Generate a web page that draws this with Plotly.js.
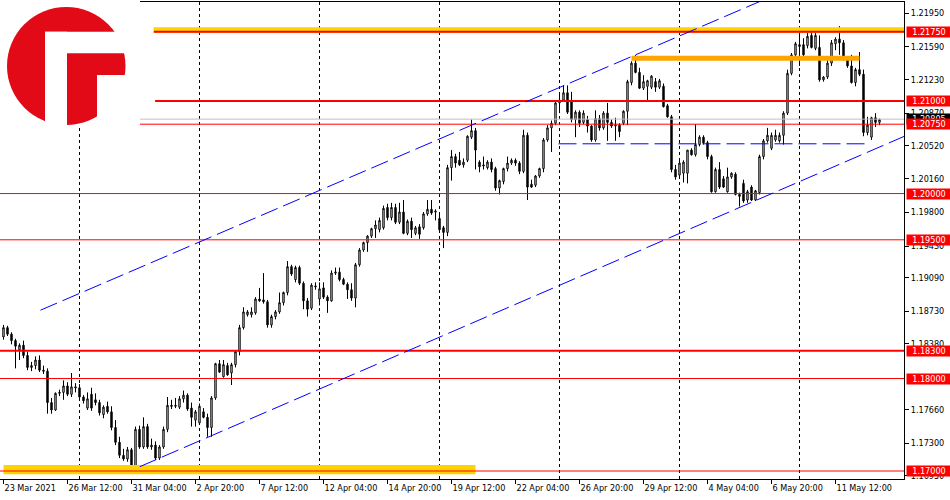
<!DOCTYPE html>
<html>
<head>
<meta charset="utf-8">
<script src="https://cdn.plot.ly/plotly-3.0.1.min.js"></script>
<style>
html,body{margin:0;padding:0;background:#ffffff;}
#chart{width:950px;height:500px;}
</style>
</head>
<body>
<div id="chart"></div>
<script>
// EURUSD H4 candles
const opens = [
1.1845,1.1855,1.1848,1.1841,1.1831,1.1836,1.1825,1.1812,1.1814,1.1820,
1.1809,1.1808,1.1774,1.1766,1.1784,1.1785,1.1792,1.1783,1.1791,1.1790,
1.1780,1.1768,1.1783,1.1777,1.1774,1.1761,1.1770,1.1764,1.1747,1.1731,
1.1717,1.1713,1.1723,1.1705,1.1745,1.1726,1.1748,1.1726,1.1728,1.1714,
1.1726,1.1745,1.1771,1.1770,1.1769,1.1778,1.1782,1.1768,1.1755,1.1752,
1.1764,1.1758,1.1747,1.1779,1.1816,1.1802,1.1814,1.1806,1.1815,1.1829,
1.1855,1.1869,1.1869,1.1871,1.1886,1.1885,1.1883,1.1858,1.1867,1.1872,
1.1882,1.1893,1.1921,1.1907,1.1920,1.1903,1.1884,1.1876,1.1899,1.1886,
1.1898,1.1888,1.1884,1.1914,1.1915,1.1907,1.1902,1.1896,1.1887,1.1923,
1.1939,1.1947,1.1954,1.1962,1.1961,1.1963,1.1985,1.1974,1.1985,1.1969,
1.1980,1.1957,1.1970,1.1957,1.1964,1.1963,1.1978,1.1983,1.1980,1.1973,
1.1963,1.1958,1.2028,1.2040,1.2036,1.2031,1.2036,1.2061,1.2068,1.2034,
1.2031,1.2028,1.2034,1.2027,1.2006,1.2013,1.2027,1.2033,1.2036,1.2033,
1.2024,1.2063,1.2010,1.2009,1.2019,1.2027,1.2058,1.2071,1.2076,1.2098,
1.2101,1.2109,1.2099,1.2080,1.2088,1.2077,1.2080,1.2073,1.2058,1.2081,
1.2071,1.2087,1.2077,1.2073,1.2074,1.2076,1.2089,1.2120,1.2141,1.2131,
1.2114,1.2116,1.2115,1.2121,1.2115,1.2116,1.2095,1.2083,1.2026,1.2020,
1.2022,1.2022,1.2047,1.2042,1.2053,1.2061,1.2055,1.2040,1.2002,1.2026,
1.2016,1.2002,1.2018,1.2021,1.1999,1.2011,1.1993,1.2007,1.1993,1.2001,
1.2040,1.2057,1.2049,1.2058,1.2057,1.2063,1.2087,1.2130,1.2150,1.2159,
1.2161,1.2160,1.2171,1.2157,1.2158,1.2123,1.2126,1.2141,1.2162,1.2167,
1.2163,1.2146,1.2138,1.2120,1.2134,1.2129,1.2066,1.2061,1.2082,1.2077
];
const highs = [
1.1858,1.1857,1.1850,1.1843,1.1838,1.1841,1.1829,1.1818,1.1824,1.1825,
1.1814,1.1811,1.1779,1.1785,1.1788,1.1798,1.1796,1.1806,1.1795,1.1794,
1.1782,1.1785,1.1790,1.1784,1.1777,1.1771,1.1775,1.1770,1.1755,1.1737,
1.1724,1.1726,1.1725,1.1748,1.1749,1.1758,1.1751,1.1735,1.1732,1.1728,
1.1748,1.1780,1.1777,1.1779,1.1781,1.1787,1.1784,1.1774,1.1766,1.1773,
1.1768,1.1762,1.1781,1.1817,1.1820,1.1820,1.1817,1.1817,1.1830,1.1858,
1.1877,1.1874,1.1877,1.1888,1.1898,1.1914,1.1885,1.1869,1.1874,1.1893,
1.1894,1.1927,1.1923,1.1922,1.1922,1.1905,1.1887,1.1903,1.1904,1.1904,
1.1904,1.1890,1.1917,1.1920,1.1920,1.1909,1.1904,1.1903,1.1925,1.1941,
1.1948,1.1955,1.1963,1.1971,1.1974,1.1987,1.1989,1.1990,1.1989,1.1990,
1.1993,1.1972,1.1974,1.1965,1.1967,1.1980,1.1993,1.1993,1.1983,1.1977,
1.1965,1.2031,1.2047,1.2043,1.2045,1.2038,1.2063,1.2080,1.2071,1.2036,
1.2040,1.2036,1.2038,1.2029,1.2015,1.2028,1.2040,1.2038,1.2038,1.2035,
1.2069,1.2066,1.2015,1.2020,1.2028,1.2060,1.2074,1.2079,1.2100,1.2107,
1.2117,1.2117,1.2110,1.2090,1.2090,1.2090,1.2084,1.2074,1.2090,1.2085,
1.2089,1.2098,1.2080,1.2082,1.2076,1.2090,1.2123,1.2143,1.2150,1.2136,
1.2128,1.2123,1.2128,1.2125,1.2124,1.2119,1.2097,1.2085,1.2031,1.2036,
1.2036,1.2047,1.2049,1.2075,1.2063,1.2063,1.2057,1.2042,1.2028,1.2034,
1.2019,1.2028,1.2023,1.2023,1.2001,1.2015,1.2004,1.2009,1.2004,1.2042,
1.2059,1.2071,1.2066,1.2069,1.2066,1.2089,1.2134,1.2152,1.2164,1.2174,
1.2168,1.2174,1.2174,1.2174,1.2171,1.2127,1.2144,1.2166,1.2169,1.2181,
1.2166,1.2148,1.2150,1.2136,1.2153,1.2134,1.2083,1.2083,1.2087,1.2081
];
const lows = [
1.1842,1.1846,1.1837,1.1811,1.1820,1.1822,1.1809,1.1808,1.1810,1.1807,
1.1805,1.1762,1.1762,1.1765,1.1781,1.1777,1.1781,1.1780,1.1785,1.1777,
1.1773,1.1766,1.1765,1.1771,1.1760,1.1757,1.1762,1.1744,1.1728,1.1714,
1.1711,1.1710,1.1701,1.1702,1.1724,1.1724,1.1724,1.1723,1.1712,1.1712,
1.1724,1.1742,1.1767,1.1768,1.1767,1.1774,1.1765,1.1748,1.1748,1.1750,
1.1757,1.1737,1.1737,1.1777,1.1806,1.1801,1.1803,1.1793,1.1812,1.1825,
1.1853,1.1867,1.1866,1.1869,1.1883,1.1881,1.1855,1.1855,1.1864,1.1870,
1.1879,1.1890,1.1911,1.1904,1.1901,1.1875,1.1867,1.1874,1.1896,1.1879,
1.1886,1.1871,1.1883,1.1912,1.1905,1.1901,1.1886,1.1884,1.1877,1.1921,
1.1937,1.1937,1.1952,1.1952,1.1958,1.1961,1.1971,1.1971,1.1967,1.1967,
1.1956,1.1955,1.1952,1.1955,1.1951,1.1961,1.1976,1.1977,1.1971,1.1960,
1.1941,1.1954,1.2014,1.2028,1.2030,1.2028,1.2034,1.2059,1.2026,1.2023,
1.2026,1.2026,1.2023,1.2003,1.1999,1.2010,1.2024,1.2031,1.2030,1.2021,
1.2022,1.1993,1.2006,1.2007,1.2017,1.2023,1.2056,1.2045,1.2074,1.2087,
1.2099,1.2086,1.2077,1.2061,1.2072,1.2075,1.2066,1.2056,1.2056,1.2068,
1.2069,1.2057,1.2071,1.2057,1.2061,1.2074,1.2074,1.2117,1.2130,1.2113,
1.2112,1.2101,1.2113,1.2110,1.2113,1.2093,1.2082,1.2023,1.2015,1.2018,
1.2012,1.2011,1.2041,1.2040,1.2051,1.2053,1.2037,1.2001,1.2001,1.2005,
1.2006,1.2001,1.2016,1.1998,1.1986,1.1990,1.1990,1.1992,1.1992,1.1999,
1.2037,1.2055,1.2047,1.2056,1.2055,1.2053,1.2085,1.2128,1.2148,1.2138,
1.2148,1.2157,1.2157,1.2155,1.2121,1.2121,1.2124,1.2138,1.2155,1.2150,
1.2144,1.2136,1.2119,1.2116,1.2127,1.2062,1.2063,1.2058,1.2072,1.2074
];
const closes = [
1.1855,1.1848,1.1841,1.1835,1.1836,1.1825,1.1812,1.1814,1.1820,1.1809,
1.1808,1.1774,1.1766,1.1784,1.1785,1.1792,1.1783,1.1791,1.1790,1.1780,
1.1776,1.1778,1.1768,1.1774,1.1763,1.1769,1.1764,1.1747,1.1731,1.1717,
1.1713,1.1723,1.1705,1.1745,1.1726,1.1748,1.1726,1.1728,1.1714,1.1726,
1.1745,1.1771,1.1770,1.1771,1.1778,1.1782,1.1767,1.1758,1.1764,1.1770,
1.1758,1.1747,1.1779,1.1816,1.1807,1.1815,1.1804,1.1815,1.1829,1.1855,
1.1872,1.1872,1.1872,1.1886,1.1884,1.1883,1.1858,1.1867,1.1872,1.1882,
1.1893,1.1921,1.1913,1.1920,1.1903,1.1884,1.1875,1.1901,1.1900,1.1897,
1.1888,1.1884,1.1914,1.1915,1.1907,1.1902,1.1896,1.1887,1.1923,1.1939,
1.1947,1.1954,1.1962,1.1966,1.1971,1.1984,1.1974,1.1985,1.1969,1.1980,
1.1957,1.1970,1.1961,1.1963,1.1956,1.1978,1.1983,1.1979,1.1981,1.1961,
1.1958,1.2028,1.2040,1.2033,1.2031,1.2034,1.2062,1.2068,1.2047,1.2029,
1.2030,1.2034,1.2026,1.2006,1.2014,1.2027,1.2033,1.2036,1.2033,1.2024,
1.2063,1.2007,1.2007,1.2019,1.2027,1.2058,1.2071,1.2076,1.2098,1.2101,
1.2109,1.2088,1.2080,1.2088,1.2076,1.2087,1.2073,1.2058,1.2081,1.2071,
1.2087,1.2077,1.2073,1.2074,1.2067,1.2089,1.2121,1.2141,1.2131,1.2114,
1.2121,1.2122,1.2127,1.2115,1.2122,1.2094,1.2083,1.2026,1.2018,1.2033,
1.2034,1.2047,1.2042,1.2053,1.2061,1.2055,1.2040,1.2002,1.2026,1.2007,
1.2007,1.2018,1.2022,1.1999,1.1997,1.1992,1.2002,1.1993,1.2003,1.2040,
1.2057,1.2063,1.2063,1.2063,1.2063,1.2087,1.2130,1.2150,1.2162,1.2161,
1.2150,1.2170,1.2158,1.2171,1.2123,1.2126,1.2141,1.2163,1.2167,1.2163,
1.2147,1.2138,1.2120,1.2134,1.2129,1.2066,1.2074,1.2082,1.2077,1.2080
];
const barIndex = closes.map((_, i) => i);

// time axis labels (bar index where each label starts)
const tickBars = [0,16,32,48,64,80,96,112,128,144,160,176,192,208];
const tickLabels = ["23 Mar 2021","26 Mar 12:00","31 Mar 04:00","2 Apr 20:00","7 Apr 12:00",
  "12 Apr 04:00","14 Apr 20:00","19 Apr 12:00","22 Apr 04:00","26 Apr 20:00",
  "29 Apr 12:00","4 May 04:00","6 May 20:00","11 May 12:00"];
const gridBars = [19,49,79,109,139,169,199];

// price scale labels
const priceTicks = [1.2195,1.2159,1.2123,1.2087,1.2052,1.2016,1.1980,1.1943,1.1909,1.1873,1.1838,1.1766,1.1730,1.1695];

// horizontal levels
const levels      = [1.2175, 1.2100, 1.2075, 1.2000, 1.1950, 1.1830, 1.1800, 1.1700];
const levelStart  = [37.6,   37.9,   -1,     -1,     -1,     -1,     -1,     -1];
const levelWidth  = [2,      2,      1,      1,      1,      2,      1,      1];
const bidPrice = 1.20805;

// zones (bar from, bar to, price low, price high)
const topZone    = [37.5, 226, 1.21739, 1.21798];
const orangeZone = [157,  214, 1.21437, 1.21491];
const bottomZone = [0,    118, 1.16964, 1.17065];
const supportDash = [138.75, 216.75, 1.20538];

// channel lines [bar, price, bar, price]
const channelUpper = [9.25, 1.18739, 190, 1.22094];
const channelLower = [34.08, 1.17047, 225.25, 1.20620];

// ---------- geometry of the plot area ----------
const FIG_W = 950, FIG_H = 500;
const M = {l:0, r:46, t:2, b:21};
const PLOT_W = FIG_W - M.l - M.r;
const PLOT_H = FIG_H - M.t - M.b;
const yRange = [1.169136, 1.220714];
const xRange = [-0.875, 225.125];
const px = x => (x - M.l) / PLOT_W;              // pixel -> paper
const py = y => (FIG_H - M.b - y) / PLOT_H;

const FONT = "'DejaVu Sans Condensed', 'Liberation Sans', Arial, sans-serif";

const shapes = [];
// vertical dotted grid
gridBars.forEach(b => shapes.push({type:'line', xref:'x', yref:'paper', x0:b, x1:b, y0:0, y1:1,
  line:{color:'#000000', width:1, dash:'3px,3px'}, layer:'below'}));

// zones
shapes.push({type:'rect', xref:'x', yref:'y', x0:bottomZone[0], x1:bottomZone[1], y0:bottomZone[2], y1:bottomZone[3],
  fillcolor:'#FFD200', line:{width:0}, layer:'above'});
shapes.push({type:'rect', xref:'x', yref:'y', x0:topZone[0], x1:topZone[1], y0:topZone[2], y1:topZone[3],
  fillcolor:'#FFD200', line:{width:0}, layer:'above'});
shapes.push({type:'rect', xref:'x', yref:'y', x0:orangeZone[0], x1:orangeZone[1], y0:orangeZone[2], y1:orangeZone[3],
  fillcolor:'#FFA500', line:{width:0}, layer:'above'});

// bid line
shapes.push({type:'line', xref:'paper', yref:'y', x0:0, x1:1, y0:bidPrice, y1:bidPrice,
  line:{color:'#C0C0C0', width:1}, layer:'above'});

// level lines
levels.forEach((lv, k) => {
  const s = {type:'line', yref:'y', y0:lv, y1:lv, line:{color:'#FF0000', width:levelWidth[k]}, layer:'above'};
  if (levelStart[k] < 0) { s.xref = 'paper'; s.x0 = 0; s.x1 = 1; }
  else { s.xref = 'x'; s.x0 = levelStart[k]; s.x1 = xRange[1]; }
  shapes.push(s);
});

// dashed support line and channel
shapes.push({type:'line', xref:'x', yref:'y', x0:supportDash[0], x1:supportDash[1], y0:supportDash[2], y1:supportDash[2],
  line:{color:'#0000FF', width:1, dash:'18px,6px'}, layer:'above'});
[channelUpper, channelLower].forEach(c => shapes.push({type:'line', xref:'x', yref:'y',
  x0:c[0], y0:c[1], x1:c[2], y1:c[3], line:{color:'#0000FF', width:1, dash:'18px,6px'}, layer:'above'}));

// logo (white panel + red circle with white "F" cut-out)
const logoRed = '#E30A17';
const prect = (x0, y0, x1, y1, color) => ({type:'rect', xref:'paper', yref:'paper',
  x0:px(x0), x1:px(x1), y0:py(y1), y1:py(y0), fillcolor:color, line:{width:0}, layer:'above'});
shapes.push(prect(0, 0, 140, 128, '#FFFFFF'));
shapes.push({type:'circle', xref:'paper', yref:'paper', x0:px(7), x1:px(125.5), y0:py(125), y1:py(7),
  fillcolor:logoRed, line:{width:0}, layer:'above'});
shapes.push(prect(45, 31.7, 67, 127, '#FFFFFF'));
shapes.push(prect(45, 31.7, 130, 53.3, '#FFFFFF'));
shapes.push(prect(97, 75, 130, 127, '#FFFFFF'));

// right-hand price labels
const annotations = [];
const priceBox = (price, bg) => ({xref:'paper', yref:'y', x:1, y:price, xanchor:'left', yanchor:'middle',
  xshift:2, text:price.toFixed(5), showarrow:false, bgcolor:bg, borderpad:0, width:44, height:10,
  align:'center', font:{family:FONT, size:9, color:'#FFFFFF'}});
annotations.push(priceBox(bidPrice, '#000000'));
levels.forEach(lv => annotations.push(priceBox(lv, '#FF0000')));

const data = [{
  type:'candlestick', x:barIndex, open:opens, high:highs, low:lows, close:closes,
  increasing:{line:{color:'#000000', width:1}, fillcolor:'#FFFFFF'},
  decreasing:{line:{color:'#000000', width:1}, fillcolor:'#000000'},
  whiskerwidth:0, hoverinfo:'skip', showlegend:false
}];

const layout = {
  width:FIG_W, height:FIG_H, margin:M,
  paper_bgcolor:'#FFFFFF', plot_bgcolor:'#FFFFFF',
  showlegend:false, boxgap:0.5, dragmode:false,
  xaxis:{range:xRange, tickvals:tickBars, ticktext:tickLabels, ticks:'outside', ticklen:4,
    tickcolor:'#000000', ticklabelposition:'outside right', showgrid:false, zeroline:false,
    showline:true, linecolor:'#000000', linewidth:1, mirror:true,
    rangeslider:{visible:false}, tickfont:{family:FONT, size:9, color:'#000000'}, fixedrange:true},
  yaxis:{side:'right', range:yRange, tickvals:priceTicks, tickformat:'.5f', ticks:'outside', ticklen:4,
    tickcolor:'#000000', showline:true, linecolor:'#000000', linewidth:1, showgrid:false, zeroline:false,
    tickfont:{family:FONT, size:9, color:'#000000'}, fixedrange:true},
  shapes:shapes, annotations:annotations
};

Plotly.newPlot('chart', data, layout, {displayModeBar:false, staticPlot:true});
</script>
</body>
</html>
